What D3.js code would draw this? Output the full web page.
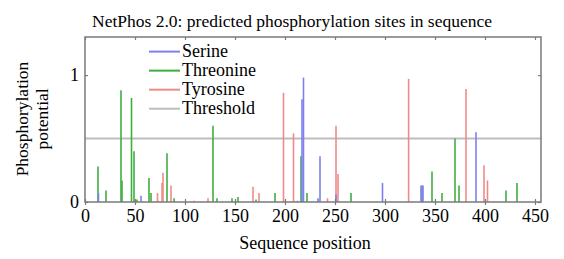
<!DOCTYPE html>
<html lang="en">
<head>
    <meta charset="UTF-8">
    <title>NetPhos 2.0</title>
    <script src="https://d3js.org/d3.v7.min.js"></script>
    <style>
        body { margin: 0; background: #fff; }
    </style>
</head>
<body>
<svg id="main" width="564" height="259"></svg>
<script>
    // position, potential
    const serine = [
        [13.5, 0.07], [56, 0.05], [212.5, 0.01], [217, 0.81], [218.5, 0.98],
        [233, 0.03], [235, 0.36], [251, 0.06], [297.5, 0.15], [336, 0.13],
        [338, 0.13], [391, 0.55]
    ];
    const threonine = [
        [13, 0.28], [21, 0.09], [36, 0.88], [37, 0.17], [46.5, 0.82], [49, 0.40],
        [52, 0.02], [64, 0.19], [66, 0.07], [82, 0.385], [89, 0.03], [128, 0.60],
        [132, 0.03], [147, 0.03], [153, 0.04], [171, 0.02], [190, 0.07], [216, 0.36],
        [222, 0.07], [266, 0.07], [337, 0.13], [347, 0.24], [357, 0.07], [370, 0.50],
        [374, 0.13], [421, 0.09], [432, 0.15]
    ];
    const tyrosine = [
        [72.5, 0.07], [77, 0.15], [78, 0.23], [86, 0.13], [109, 0.01], [123, 0.03],
        [168, 0.12], [174, 0.07], [198.5, 0.86], [208.5, 0.54], [242.5, 0.03],
        [251, 0.60], [253, 0.22], [323.6, 0.97], [381, 0.89], [399, 0.29], [402.5, 0.17]
    ];
    const threshold = 0.5;
    const xTicks = [0, 50, 100, 150, 200, 250, 300, 350, 400, 450];
    const yTicks = [0, 1];
    const legendNames = ['Serine', 'Threonine', 'Tyrosine', 'Threshold'];

    const colors = {
        Serine: '#7f7ff0',
        Threonine: '#3fae3f',
        Tyrosine: '#f08a8a',
        Threshold: '#bdbdbd'
    };
    const serif = "'Liberation Serif', 'Times New Roman', Times, 'DejaVu Serif', serif";

    const svg = d3.select('svg#main').attr('font-family', serif);
    const x = d3.scaleLinear().domain([0, 456]).range([85, 541]);
    const y = d3.scaleLinear().domain([0, 1.3]).range([202, 37]);

    // threshold
    svg.append('line')
        .attr('x1', x(0)).attr('x2', x(456))
        .attr('y1', y(threshold)).attr('y2', y(threshold))
        .attr('stroke', colors.Threshold).attr('stroke-width', 2);

    // bars
    const series = [['Tyrosine', tyrosine], ['Threonine', threonine], ['Serine', serine]];
    series.forEach(function(s) {
        svg.append('g')
            .selectAll('line')
            .data(s[1])
            .enter()
            .append('line')
            .attr('x1', d => x(d[0])).attr('x2', d => x(d[0]))
            .attr('y1', y(0)).attr('y2', d => y(d[1]))
            .attr('stroke', colors[s[0]])
            .attr('stroke-width', 1.6);
    });

    // frame and axes
    const frame = '#7a7a7a';
    svg.append('rect')
        .attr('x', x(0)).attr('y', y(1.3))
        .attr('width', x(456) - x(0)).attr('height', y(0) - y(1.3))
        .attr('fill', 'none').attr('stroke', frame).attr('stroke-width', 1.5);

    const axBottom = svg.append('g').attr('transform', `translate(0,${y(0)})`)
        .call(d3.axisBottom(x).tickValues(xTicks).tickSize(3).tickPadding(4));
    const axTop = svg.append('g').attr('transform', `translate(0,${y(1.3)})`)
        .call(d3.axisBottom(x).tickValues(xTicks).tickSize(3).tickFormat(''));
    const axLeft = svg.append('g').attr('transform', `translate(${x(0)},0)`)
        .call(d3.axisLeft(y).tickValues(yTicks).tickSize(3).tickPadding(3).tickFormat(d3.format('d')));
    const axRight = svg.append('g').attr('transform', `translate(${x(456)},0)`)
        .call(d3.axisLeft(y).tickValues(yTicks).tickSize(3).tickFormat(''));

    [axBottom, axTop, axLeft, axRight].forEach(function(g) {
        g.attr('font-family', serif).attr('font-size', 18);
        g.select('.domain').remove();
        g.selectAll('line').attr('stroke', frame).attr('stroke-width', 1.2);
        g.selectAll('text').attr('fill', '#000');
    });
    axBottom.selectAll('.tick line').attr('y1', -3);
    axLeft.selectAll('.tick line').attr('x2', 3);

    // legend
    legendNames.forEach(function(name, i) {
        const ly = y(1.185 - i * 0.15);
        svg.append('line')
            .attr('x1', x(64)).attr('x2', x(95))
            .attr('y1', ly).attr('y2', ly)
            .attr('stroke', colors[name]).attr('stroke-width', 2);
        svg.append('text')
            .attr('x', x(97)).attr('y', ly + 5.5)
            .attr('font-size', 18)
            .text(name);
    });

    // titles
    svg.append('text')
        .attr('x', 292).attr('y', 27)
        .attr('text-anchor', 'middle')
        .attr('font-size', 17.5)
        .text('NetPhos 2.0: predicted phosphorylation sites in sequence');

    svg.append('text')
        .attr('x', 305).attr('y', 249)
        .attr('text-anchor', 'middle')
        .attr('font-size', 18)
        .text('Sequence position');

    const yl = svg.append('text')
        .attr('transform', 'translate(28,119) rotate(-90)')
        .attr('text-anchor', 'middle')
        .attr('font-size', 17.5);
    yl.append('tspan').attr('x', 0).attr('dy', 0).text('Phosphorylation');
    yl.append('tspan').attr('x', 0).attr('dy', 20).text('potential');
</script>
</body>
</html>
